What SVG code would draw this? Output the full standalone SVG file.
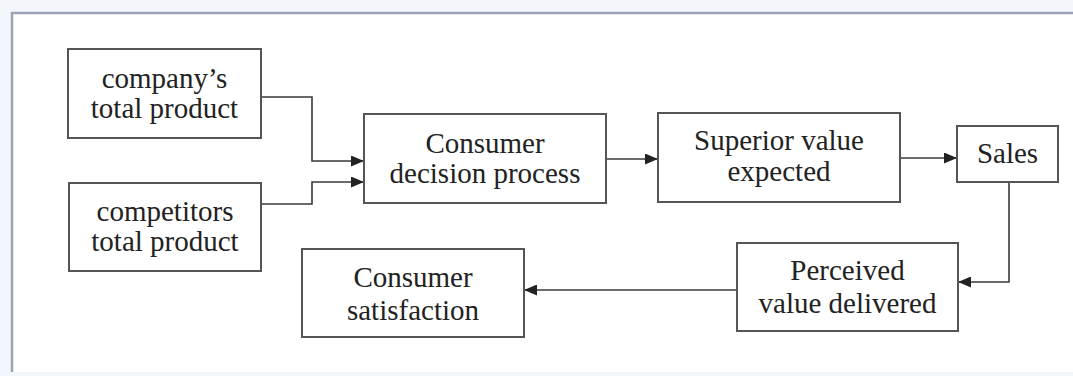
<svg xmlns="http://www.w3.org/2000/svg" width="1073" height="376" viewBox="0 0 1073 376">
  <style>
    .box { fill: #ffffff; stroke: #555555; stroke-width: 2; }
    .lbl { font-family: "Liberation Serif", "Times New Roman", serif; font-size: 29px; fill: #222222; text-anchor: middle; }
    .conn { fill: none; stroke: #3a3a3a; stroke-width: 1.6; marker-end: url(#arrow); }
  </style>
  <defs>
    <marker id="arrow" markerUnits="userSpaceOnUse" markerWidth="13" markerHeight="11" refX="13" refY="5.5" orient="auto">
      <path d="M0,0 L13,5.5 L0,11 z" fill="#222222"/>
    </marker>
  </defs>

  <!-- background / frame -->
  <rect x="0" y="0" width="1073" height="376" fill="#f3f7fb"/>
  <rect x="12" y="13" width="1061" height="359" fill="#ffffff"/>
  <line x1="11" y1="13" x2="1073" y2="13" stroke="#9ba5b9" stroke-width="2.5"/>
  <line x1="12" y1="12" x2="12" y2="372" stroke="#9ba5b9" stroke-width="2.5"/>

  <g id="connectors">
    <path class="conn" d="M261,97 H312 V161 H364"/>
    <path class="conn" d="M261,204 H312 V182 H364"/>
    <path class="conn" d="M606,159 H658"/>
    <path class="conn" d="M900,158 H957"/>
    <path class="conn" d="M1009,182 V282 H958"/>
    <path class="conn" d="M737,290 H524"/>
  </g>

  <g id="company">
    <rect class="box" x="68" y="49" width="193" height="89"/>
    <text class="lbl" x="164.5" y="88">company’s</text>
    <text class="lbl" x="164.5" y="118">total product</text>
  </g>

  <g id="competitors">
    <rect class="box" x="69" y="183" width="192" height="88"/>
    <text class="lbl" x="165" y="221">competitors</text>
    <text class="lbl" x="165" y="251">total product</text>
  </g>

  <g id="decision">
    <rect class="box" x="364" y="114" width="242" height="89"/>
    <text class="lbl" x="485" y="153">Consumer</text>
    <text class="lbl" x="485" y="183">decision process</text>
  </g>

  <g id="superior">
    <rect class="box" x="658" y="113" width="242" height="89"/>
    <text class="lbl" x="779" y="150">Superior value</text>
    <text class="lbl" x="779" y="181">expected</text>
  </g>

  <g id="sales">
    <rect class="box" x="957" y="126" width="101" height="56"/>
    <text class="lbl" x="1007.5" y="163">Sales</text>
  </g>

  <g id="perceived">
    <rect class="box" x="737" y="243" width="221" height="88"/>
    <text class="lbl" x="847.5" y="280">Perceived</text>
    <text class="lbl" x="847.5" y="313">value delivered</text>
  </g>

  <g id="satisfaction">
    <rect class="box" x="302" y="249" width="222" height="88"/>
    <text class="lbl" x="413" y="287">Consumer</text>
    <text class="lbl" x="413" y="320">satisfaction</text>
  </g>
</svg>
